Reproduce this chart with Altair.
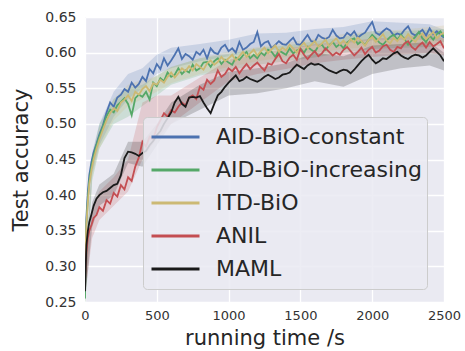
import altair as alt
import pandas as pd

names = ["AID-BiO-constant", "AID-BiO-increasing", "ITD-BiO", "ANIL", "MAML"]
colors = ["#4C72B0", "#55A868", "#CCB974", "#C44E52", "#1A1A1A"]

# sample times (s)
x_early = [0, 5, 10, 20, 30, 45, 60, 80]
x_main = list(range(100, 2501, 25))
xs = x_early + x_main

blue = [0.265, 0.33, 0.37, 0.405, 0.428, 0.447, 0.46, 0.472,
        0.485, 0.498, 0.516, 0.530,
        0.524, 0.537, 0.541, 0.549,
        0.545, 0.558, 0.551, 0.556,
        0.566, 0.560, 0.577, 0.571,
        0.584, 0.577, 0.592, 0.582,
        0.589, 0.597, 0.606, 0.591,
        0.598, 0.595, 0.590, 0.601,
        0.597, 0.604, 0.592, 0.606,
        0.600, 0.598, 0.607, 0.611,
        0.602, 0.606, 0.600, 0.615,
        0.604, 0.607, 0.612, 0.615,
        0.629, 0.609, 0.614, 0.616,
        0.606, 0.611, 0.616, 0.612,
        0.611, 0.616, 0.621, 0.612,
        0.611, 0.618, 0.625, 0.616,
        0.615, 0.625, 0.621, 0.619,
        0.622, 0.632, 0.624, 0.620,
        0.621, 0.628, 0.624, 0.630,
        0.621, 0.625, 0.628, 0.636,
        0.643, 0.628, 0.625, 0.630,
        0.634, 0.631, 0.624, 0.627,
        0.625, 0.632, 0.637, 0.627,
        0.624, 0.628, 0.632, 0.624,
        0.634, 0.626, 0.630, 0.625,
        0.621]

green = [0.255, 0.32, 0.36, 0.395, 0.42, 0.44, 0.455, 0.47,
         0.482, 0.496, 0.511, 0.520,
         0.516, 0.526, 0.531, 0.536,
         0.528, 0.512, 0.536, 0.541,
         0.538, 0.545, 0.534, 0.558,
         0.553, 0.564, 0.560, 0.572,
         0.566, 0.569, 0.578, 0.570,
         0.575, 0.572, 0.583, 0.575,
         0.578, 0.586, 0.587, 0.580,
         0.588, 0.592, 0.584, 0.590,
         0.586, 0.583, 0.593, 0.590,
         0.596, 0.601, 0.592, 0.597,
         0.592, 0.600, 0.596, 0.604,
         0.601, 0.594, 0.603, 0.600,
         0.597, 0.606, 0.599, 0.603,
         0.606, 0.600, 0.608, 0.604,
         0.601, 0.609, 0.611, 0.604,
         0.610, 0.615, 0.608, 0.612,
         0.606, 0.614, 0.618, 0.620,
         0.612, 0.616, 0.611, 0.618,
         0.625, 0.620, 0.614, 0.611,
         0.617, 0.622, 0.625, 0.618,
         0.625, 0.619, 0.611, 0.617,
         0.622, 0.629, 0.620, 0.615,
         0.624, 0.618, 0.626, 0.630,
         0.622]

yellow = [0.27, 0.33, 0.36, 0.39, 0.415, 0.435, 0.45, 0.465,
          0.478, 0.492, 0.505, 0.515,
          0.522, 0.518, 0.530, 0.534,
          0.540, 0.532, 0.545, 0.541,
          0.549, 0.553, 0.546, 0.557,
          0.555, 0.562, 0.558, 0.566,
          0.572, 0.565, 0.571, 0.578,
          0.574, 0.581, 0.575, 0.584,
          0.580, 0.576, 0.585, 0.589,
          0.583, 0.587, 0.594, 0.588,
          0.592, 0.597, 0.589, 0.595,
          0.601, 0.594, 0.599, 0.604,
          0.596, 0.602, 0.607, 0.599,
          0.605, 0.610, 0.601, 0.607,
          0.603, 0.611, 0.606, 0.600,
          0.609, 0.614, 0.606, 0.611,
          0.616, 0.608, 0.613, 0.618,
          0.609, 0.615, 0.620, 0.612,
          0.617, 0.611, 0.619, 0.614,
          0.621, 0.616, 0.610, 0.618,
          0.622, 0.615, 0.620, 0.626,
          0.617, 0.613, 0.621, 0.616,
          0.623, 0.618, 0.626, 0.620,
          0.615, 0.622, 0.627, 0.619,
          0.624, 0.629, 0.620, 0.625,
          0.628]

red = [0.28, 0.30, 0.32, 0.34, 0.35, 0.358, 0.368, 0.372,
       0.383, 0.378, 0.393, 0.388,
       0.403, 0.398, 0.414, 0.408,
       0.425, 0.420, 0.440, 0.453,
       0.475, 0.468, 0.482, 0.478,
       0.495, 0.505, 0.515, 0.510,
       0.519, 0.516, 0.524, 0.530,
       0.526, 0.537, 0.540, 0.535,
       0.552, 0.548, 0.562, 0.556,
       0.561, 0.575, 0.566, 0.570,
       0.578, 0.574, 0.580, 0.571,
       0.578, 0.584, 0.577, 0.582,
       0.586, 0.580, 0.575, 0.585,
       0.583, 0.591, 0.598, 0.588,
       0.585, 0.593, 0.597, 0.590,
       0.605, 0.597, 0.591, 0.597,
       0.602, 0.595, 0.599, 0.606,
       0.601, 0.596, 0.600, 0.597,
       0.604, 0.608, 0.602, 0.596,
       0.601, 0.607, 0.598, 0.604,
       0.608, 0.600, 0.603, 0.609,
       0.611, 0.604, 0.601, 0.608,
       0.606, 0.613, 0.616, 0.608,
       0.604, 0.610, 0.614, 0.607,
       0.615, 0.609, 0.612, 0.616,
       0.606]

black = [0.265, 0.30, 0.33, 0.35, 0.362, 0.373, 0.385, 0.395,
         0.400, 0.404, 0.406, 0.410,
         0.414, 0.416, 0.428, 0.452,
         0.461, 0.460, 0.458, 0.455,
         0.459, 0.462, 0.470, 0.476,
         0.484, 0.490, 0.500, 0.508,
         0.516, 0.530, 0.538, 0.528,
         0.524, 0.537, 0.538, 0.537,
         0.539, 0.530, 0.522, 0.515,
         0.528, 0.540, 0.545, 0.552,
         0.558, 0.563, 0.568, 0.560,
         0.562, 0.566, 0.563, 0.561,
         0.559, 0.562, 0.566, 0.569,
         0.566, 0.563, 0.565, 0.569,
         0.570, 0.572, 0.578, 0.583,
         0.580, 0.577, 0.582, 0.585,
         0.583, 0.584, 0.582, 0.578,
         0.575, 0.573, 0.571, 0.574,
         0.576, 0.575, 0.571, 0.576,
         0.582, 0.588, 0.593, 0.597,
         0.590, 0.585, 0.588, 0.592,
         0.591, 0.595, 0.599, 0.601,
         0.596, 0.593, 0.591, 0.595,
         0.597, 0.596, 0.593, 0.596,
         0.601, 0.606, 0.601, 0.596,
         0.588]

# shaded spread (coarse)
band_x = [0, 50, 100, 200, 300, 400, 500, 600, 800, 1000, 1200, 1400, 1600, 1800, 2000, 2200, 2400, 2500]
blue_lo = [0.25, 0.43, 0.47, 0.51, 0.535, 0.55, 0.57, 0.578, 0.588, 0.595, 0.602, 0.605, 0.61, 0.613, 0.617, 0.618, 0.618, 0.615]
blue_hi = [0.29, 0.46, 0.50, 0.545, 0.57, 0.578, 0.597, 0.607, 0.612, 0.618, 0.627, 0.628, 0.633, 0.636, 0.644, 0.642, 0.64, 0.632]
green_lo = [0.24, 0.42, 0.465, 0.50, 0.51, 0.525, 0.54, 0.555, 0.568, 0.575, 0.583, 0.588, 0.593, 0.60, 0.605, 0.607, 0.608, 0.61]
green_hi = [0.28, 0.455, 0.50, 0.535, 0.55, 0.555, 0.568, 0.58, 0.592, 0.598, 0.606, 0.61, 0.616, 0.622, 0.63, 0.63, 0.632, 0.633]
yellow_lo = [0.25, 0.425, 0.465, 0.505, 0.525, 0.535, 0.545, 0.557, 0.57, 0.58, 0.588, 0.594, 0.60, 0.605, 0.608, 0.61, 0.612, 0.615]
yellow_hi = [0.29, 0.455, 0.495, 0.535, 0.555, 0.562, 0.567, 0.58, 0.592, 0.602, 0.608, 0.614, 0.62, 0.626, 0.63, 0.632, 0.636, 0.638]
red_lo = [0.26, 0.34, 0.365, 0.385, 0.405, 0.45, 0.48, 0.50, 0.53, 0.56, 0.57, 0.577, 0.585, 0.59, 0.594, 0.597, 0.60, 0.596]
red_hi = [0.30, 0.38, 0.405, 0.425, 0.45, 0.53, 0.54, 0.54, 0.565, 0.59, 0.598, 0.605, 0.612, 0.615, 0.62, 0.622, 0.626, 0.62]
black_lo = [0.25, 0.355, 0.385, 0.40, 0.445, 0.44, 0.47, 0.50, 0.52, 0.54, 0.543, 0.55, 0.56, 0.552, 0.57, 0.578, 0.582, 0.575]
black_hi = [0.28, 0.39, 0.415, 0.43, 0.475, 0.475, 0.50, 0.53, 0.555, 0.573, 0.578, 0.585, 0.60, 0.595, 0.61, 0.612, 0.615, 0.60]

x_ticks = [0, 500, 1000, 1500, 2000, 2500]
y_ticks = [0.25, 0.30, 0.35, 0.40, 0.45, 0.50, 0.55, 0.60, 0.65]

series = [blue, green, yellow, red, black]
los = [blue_lo, green_lo, yellow_lo, red_lo, black_lo]
his = [blue_hi, green_hi, yellow_hi, red_hi, black_hi]

rows = []
for n, ys in zip(names, series):
    for x, y in zip(xs, ys):
        rows.append({"t": x, "acc": y, "method": n})
lines_df = pd.DataFrame(rows)

brows = []
for n, lo, hi in zip(names, los, his):
    for x, a, b in zip(band_x, lo, hi):
        brows.append({"t": x, "lo": a, "hi": b, "method": n})
band_df = pd.DataFrame(brows)

font = "DejaVu Sans"

x_scale = alt.Scale(domain=[0, 2500], nice=False)
y_scale = alt.Scale(domain=[0.25, 0.65], nice=False, zero=False)

x_axis = alt.Axis(values=x_ticks, format="d", title="running time /s",
                  labelFlush=False, labelOverlap=False, tickCount=6,
                  labelFontSize=13, titlePadding=5)
y_axis = alt.Axis(values=y_ticks, format=".2f", title="Test accuracy",
                  labelFlush=False, labelOverlap=False, tickCount=9,
                  labelFontSize=14, labelPadding=9, titlePadding=13)

bands = alt.Chart(band_df).mark_area(opacity=0.2, clip=True).encode(
    x=alt.X("t:Q", scale=x_scale, axis=x_axis),
    y=alt.Y("lo:Q", scale=y_scale, axis=y_axis),
    y2="hi:Q",
    fill=alt.Fill("method:N", scale=alt.Scale(domain=names, range=colors), legend=None),
)

lines = alt.Chart(lines_df).mark_line(strokeWidth=1.8, clip=True).encode(
    x=alt.X("t:Q", scale=x_scale, axis=x_axis),
    y=alt.Y("acc:Q", scale=y_scale, axis=y_axis),
    color=alt.Color("method:N", scale=alt.Scale(domain=names, range=colors), sort=names,
                    legend=alt.Legend(
                        title=None, orient="none", legendX=58, legendY=100,
                        symbolType="stroke", symbolSize=2304, symbolStrokeWidth=3,
                        labelFontSize=22, labelFont=font, labelColor="#262626",
                        labelLimit=400,
                        fillColor="rgba(234,234,242,0.85)", strokeColor="#CCCCCC",
                        cornerRadius=4, padding=5, clipHeight=30, rowPadding=3,
                        labelOffset=15, symbolOffset=2)),
)

chart = alt.layer(bands, lines).resolve_scale(fill="independent").properties(
    width=359, height=285,
    autosize=alt.AutoSizeParams(type="none"),
    padding={"left": 85, "top": 17, "right": 21, "bottom": 49},
    background="white",
).configure_view(
    fill="#EAEAF2", stroke=None, strokeWidth=0
).configure_axis(
    domain=False, ticks=False, grid=True, gridColor="white", gridWidth=1.3,
    labelFont=font, labelColor="#333333", labelPadding=7,
    titleFont=font, titleFontSize=21, titleFontWeight="normal", titleColor="#262626",
)

chart.save("out.html", embed_options={"renderer": "svg", "actions": False})
